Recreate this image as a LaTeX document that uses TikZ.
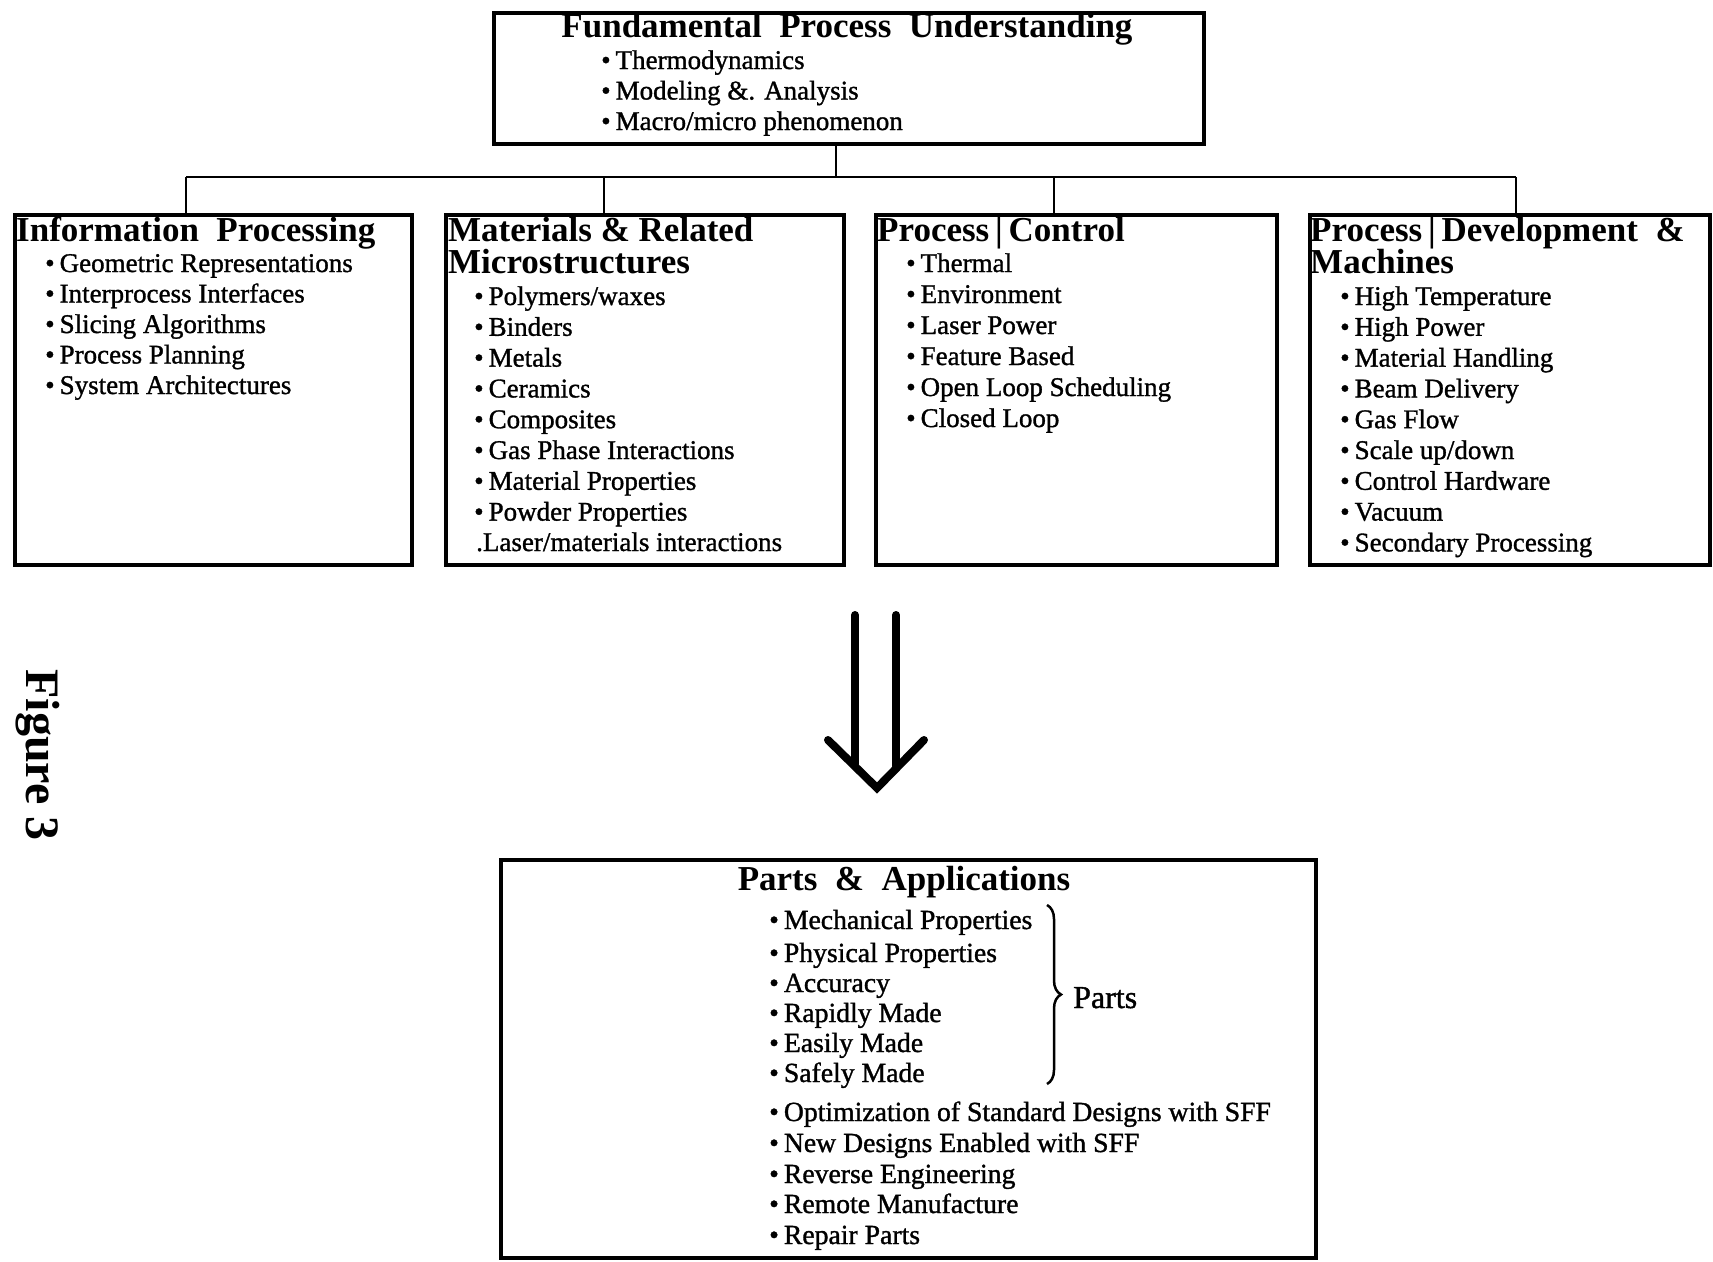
\documentclass[tikz,border=0pt]{standalone}
\usepackage{fontspec}
\setmainfont{Liberation Serif}
\newfontfamily\itemfont{Liberation Serif}[FakeBold=1.2]
\usetikzlibrary{decorations.pathreplacing}
\begin{document}
\begin{tikzpicture}[x=1pt,y=-1pt,
  box/.style={draw, line width=4pt, inner sep=0pt, anchor=north west},
  conn/.style={line width=2.7pt},
  ttl/.style={font=\fontsize{35}{38}\selectfont\bfseries, inner sep=0pt, anchor=base west},
  itm/.style={font=\itemfont\fontsize{27}{30}\selectfont, inner sep=0pt, anchor=base west},
  bitm/.style={font=\itemfont\fontsize{27.7}{30}\selectfont, inner sep=0pt, anchor=base west},
  bigarrow/.style={line width=8pt, line cap=round, line join=miter}]
\useasboundingbox (0,0) rectangle (1713,1261);

% boxes
\node[box, minimum width=710pt, minimum height=131pt] (top) at (492,11) {};
\node[box, minimum width=397pt, minimum height=350pt] (ip) at (13,213) {};
\node[box, minimum width=398pt, minimum height=350pt] (mat) at (444,213) {};
\node[box, minimum width=401pt, minimum height=350pt] (pc) at (874,213) {};
\node[box, minimum width=400pt, minimum height=350pt] (pd) at (1308,213) {};
\node[box, minimum width=815pt, minimum height=398pt] (pa) at (499,858) {};

% connectors
\coordinate (jT) at (836,177);
\coordinate (j1) at (186,177);
\coordinate (j2) at (604,177);
\coordinate (j3) at (1054,177);
\coordinate (j4) at (1516,177);
\draw[conn] (jT |- top.south) -- (jT);
\draw[conn] (j1) -- (j4);
\draw[conn] (j1) -- (j1 |- ip.north);
\draw[conn] (j2) -- (j2 |- mat.north);
\draw[conn] (j3) -- (j3 |- pc.north);
\draw[conn] (j4) -- (j4 |- pd.north);

% top box text
\node[ttl, anchor=base] (topt) at (847,37) {Fundamental\ \ Process\ \ Understanding};
\foreach \t [count=\i] in {Thermodynamics, Modeling \&. Analysis, {Macro/micro phenomenon}}
  \node[itm] (topi\i) at (601,{69+30.5*(\i-1)}) {\textbullet\hspace{5pt}\t};

% box 1
\node[ttl] (ipt) at (16,241) {Information\ \ Processing};
\foreach \t [count=\i] in {Geometric Representations, Interprocess Interfaces, Slicing Algorithms, Process Planning, System Architectures}
  \node[itm] (ipi\i) at (45,{272+30.5*(\i-1)}) {\textbullet\hspace{5pt}\t};

% box 2
\node[ttl] (matt) at (448,241) {Materials \& Related};
\node[ttl] (matt2) at (448,273) {Microstructures};
\foreach \t [count=\i] in {{Polymers/waxes}, Binders, Metals, Ceramics, Composites, Gas Phase Interactions, Material Properties, Powder Properties}
  \node[itm] (mati\i) at (474,{305+30.8*(\i-1)}) {\textbullet\hspace{5pt}\t};
\node[itm] (mati9) at (476,551) {.Laser/materials interactions};

% box 3
\node[ttl] (pct) at (877,241) {Process\,|\,Control};
\foreach \t [count=\i] in {Thermal, Environment, Laser Power, Feature Based, Open Loop Scheduling, Closed Loop}
  \node[itm] (pci\i) at (906,{272+31*(\i-1)}) {\textbullet\hspace{5pt}\t};

% box 4
\node[ttl] (pdt) at (1310,241) {Process\,|\,Development\ \ \&};
\node[ttl] (pdt2) at (1310,273) {Machines};
\foreach \t [count=\i] in {High Temperature, High Power, Material Handling, Beam Delivery, Gas Flow, {Scale up/down}, Control Hardware, Vacuum, Secondary Processing}
  \node[itm] (pdi\i) at (1340,{305+30.8*(\i-1)}) {\textbullet\hspace{5pt}\t};

% big arrow
\coordinate (s1a) at (855,615);
\coordinate (s1b) at (855,764);
\coordinate (s2a) at (896,615);
\coordinate (s2b) at (896,766);
\coordinate (hl) at (828,740);
\coordinate (tip) at (877,788);
\coordinate (hr) at (924,740);
\draw[bigarrow] (s1a) -- (s1b);
\draw[bigarrow] (s2a) -- (s2b);
\draw[bigarrow] (hl) -- (tip) -- (hr);

% figure label
\node[font=\fontsize{48}{52}\selectfont\bfseries, rotate=-90, inner sep=0pt] (fig) at (38,755) {Figure 3};

% bottom box
\node[ttl, anchor=base] (pat) at (904,890) {Parts\ \ \&\ \ Applications};
\foreach \y/\t [count=\i] in {929/Mechanical Properties, 962/Physical Properties, 992/Accuracy, 1022/Rapidly Made, 1052/Easily Made, 1082/Safely Made, 1121/Optimization of Standard Designs with SFF, 1152/New Designs Enabled with SFF, 1183/Reverse Engineering, 1213/Remote Manufacture, 1244/Repair Parts}
  \node[bitm] (pai\i) at (769,\y) {\textbullet\hspace{5pt}\t};
\coordinate (bra) at (1047,905);
\coordinate (brb) at (1047,1084);
\draw[line width=2.5pt, decorate, decoration={brace, amplitude=14pt}] (bra) -- (brb);
\node[itm, font=\itemfont\fontsize{32}{34}\selectfont] (parts) at (1073,1008) {Parts};
\end{tikzpicture}
\end{document}
